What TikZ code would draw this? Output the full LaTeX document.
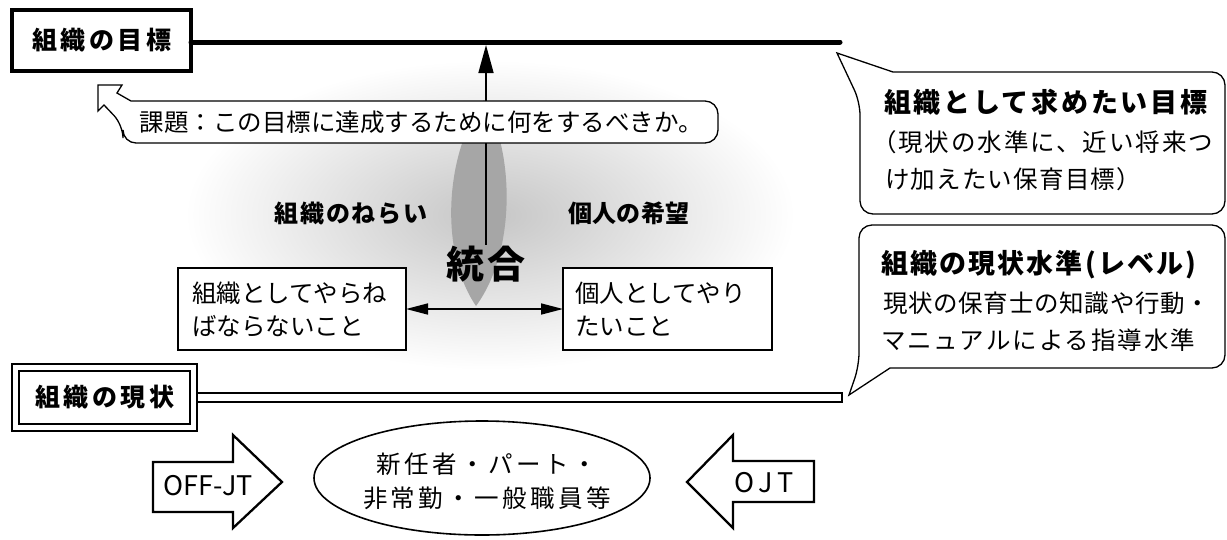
\documentclass[tikz,border=0pt]{standalone}
\usepackage{fontspec}
\newfontfamily\jp{Noto Sans CJK JP}
\usetikzlibrary{arrows.meta,shapes.geometric}
\newcommand\jpsize[2]{\fontsize{#1}{#2}\selectfont}
\newcommand\lsp[1]{\addfontfeature{LetterSpace=#1}}
\tikzset{
  every node/.style={inner sep=0pt, outer sep=0pt},
  txt/.style={font=\jp\jpsize{24.5}{33}},
  boldlab/.style={font=\jp\bfseries\jpsize{24}{28}},
  labelbox/.style={draw, fill=white, line width=4pt, minimum width=179pt, minimum height=61pt,
                   font=\jp\bfseries\jpsize{25}{28}\lsp{14}},
  genbox/.style={draw, fill=white, line width=1.8pt, double, double distance=4.5pt,
                 minimum width=178pt, minimum height=60pt, font=\jp\bfseries\jpsize{25}{28}\lsp{14}},
  textbox/.style={draw, fill=white, line width=1.8pt, minimum height=82pt, align=left,
                  font=\jp\jpsize{24.5}{33}},
  callout/.style={draw, fill=white, line width=1.3pt},
  blockarrow/.style={draw, fill=white, line width=2.3pt, line join=miter},
  thickline/.style={line width=5pt, line cap=round},
  uparrow/.style={line width=1.6pt, -{Triangle[length=28pt,width=15pt]}},
  dblarrow/.style={line width=1.6pt, {Triangle[length=22pt,width=11pt]}-{Triangle[length=22pt,width=11pt]}},
}
\begin{document}
\begin{tikzpicture}[x=1pt,y=-1pt]
\useasboundingbox (0,0) rectangle (1227,539);
\fill[white] (0,0) rectangle (1227,539);

% stippled background and lens
\shade[inner color=gray!45, outer color=white] (490,215) ellipse [x radius=305, y radius=155];
\fill[gray!70] (484,100) .. controls (446,150) and (438,250) .. (476,306)
               .. controls (517,250) and (514,150) .. (484,100) -- cycle;

% goal box and thick line
\node[labelbox] (goal) at (101.5,40.5) {組織の目標};
\coordinate (goalEnd) at (840,42);
\draw[thickline] (goal.east |- goalEnd) -- (goalEnd);

% kadai callout
\draw[callout] (117,93) -- (131,101) [rounded corners=13pt] -- (718,101) -- (718,143) -- (123,143) -- (123,125)
   [sharp corners] -- (104,105) -- (98,111) -- (98,85) -- (122,85) -- cycle;
\node[txt] (kadai) at (421.5,122) {課題：この目標に達成するために何をするべきか。};
\coordinate (kadaiTop) at (486,101);
\coordinate (goalLine) at (486,45);
\draw[uparrow] (kadaiTop) -- (goalLine);
\coordinate (kadaiBot) at (486,143);
\coordinate (lensMid) at (486,245);
\draw[line width=1.5pt] (kadaiBot) -- (lensMid);

% labels
\node[boldlab, font=\jp\bfseries\jpsize{24}{28}\lsp{8}] (nerai) at (351,213) {組織のねらい};
\node[boldlab, font=\jp\bfseries\jpsize{24}{28}\lsp{2}] (kibou) at (629,213) {個人の希望};
\node[font=\jp\bfseries\jpsize{38}{40}\lsp{8}] (tougou) at (486,264) {統合};

% boxes
\node[textbox, minimum width=228pt, text width=200pt] (lbox) at (292,309) {組織としてやらね\\ばならないこと};
\node[textbox, minimum width=209pt, text width=185pt] (rbox) at (667.5,309) {個人としてやり\\たいこと};
\draw[dblarrow] (lbox) -- (rbox);

% current state bar and box
\coordinate (barEnd) at (842,397.5);
\draw[line width=1.8pt, fill=white] (190,393) rectangle (barEnd |- 0,402);
\node[genbox] (genjou) at (104.5,397.5) {組織の現状};

% OFF-JT / OJT arrows
\draw[blockarrow] (153,462) -- (233,462) -- (233,435) -- (282,482) -- (233,528) -- (233,512) -- (153,512) -- cycle;
\node[font=\jp\jpsize{27}{30}] (offjt) at (208,486) {OFF-JT};
\draw[blockarrow] (814,461) -- (733,461) -- (733,435) -- (687,482) -- (733,528) -- (733,502) -- (814,502) -- cycle;
\node[font=\jp\jpsize{27}{30}\lsp{18}] (ojt) at (764,483) {OJT};

% staff ellipse
\node[draw, ellipse, line width=1.6pt, minimum width=336pt, minimum height=114pt] (staff) at (482,478) {};
\node[font=\jp\jpsize{24.5}{34}\lsp{14}, align=center] (stafftext) at (487,481) {新任者・パート・\\非常勤・一般職員等};

% right callout 1
\draw[callout] (837,53) -- (893,72) [rounded corners=13pt] -- (1225,72) -- (1225,214) -- (860,214) -- (860,102)
   [sharp corners] -- cycle;
\node[anchor=west, font=\jp\bfseries\jpsize{27}{30}\lsp{10}] (c1a) at (884,102) {組織として求めたい目標};
\node[anchor=west, font=\jp\jpsize{24.5}{30}\lsp{8}] (c1b) at (872,142) {（現状の水準に、近い将来つ};
\node[anchor=west, font=\jp\jpsize{24.5}{30}\lsp{5}] (c1c) at (885,179) {け加えたい保育目標）};

% right callout 2
\draw[callout] (849,395) -- (890,368) [rounded corners=13pt] -- (1225,368) -- (1225,225) -- (859,225) -- (859,366)
   [sharp corners] -- cycle;
\node[anchor=west, font=\jp\bfseries\jpsize{27}{30}\lsp{8}] (c2a) at (881,265) {組織の現状水準(レベル)};
\node[anchor=west, font=\jp\jpsize{24.5}{30}\lsp{3}] (c2b) at (883,303) {現状の保育士の知識や行動・};
\node[anchor=west, font=\jp\jpsize{24.5}{30}\lsp{8}] (c2c) at (881,340) {マニュアルによる指導水準};
\end{tikzpicture}
\end{document}
